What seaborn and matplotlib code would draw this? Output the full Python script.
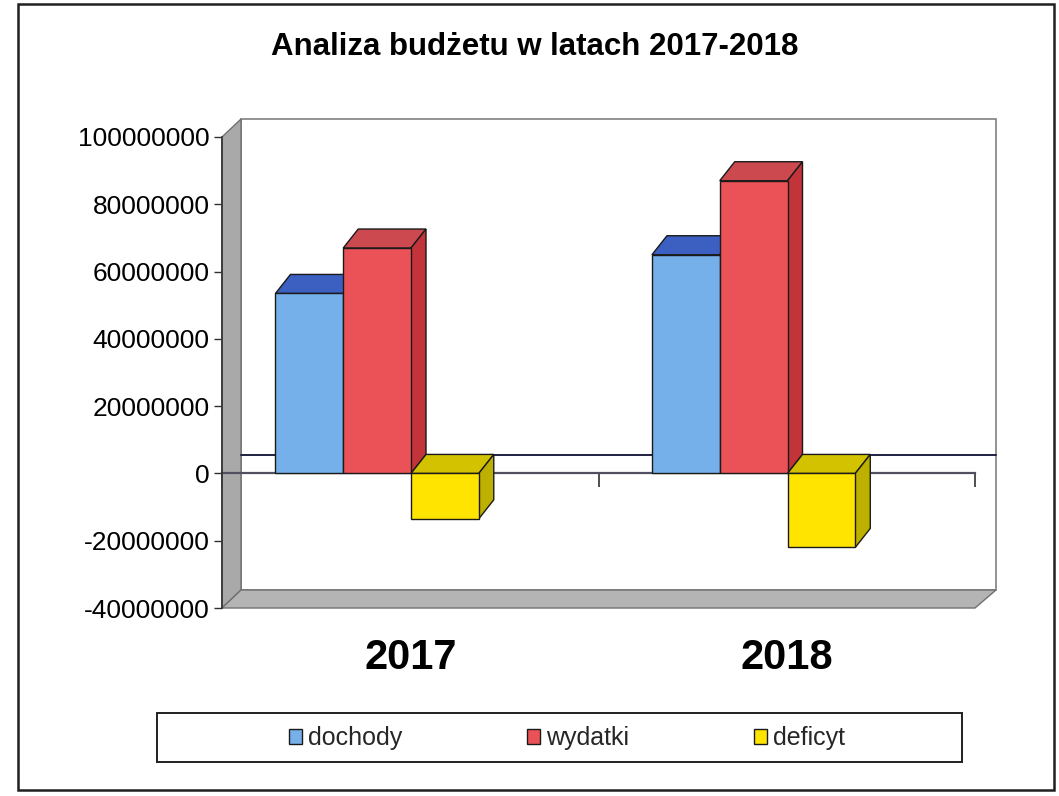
import numpy as np
import pandas as pd
import matplotlib
matplotlib.use("Agg")
import matplotlib.pyplot as plt
import seaborn as sns
from matplotlib.patches import Polygon, Rectangle, Patch
from matplotlib.ticker import FuncFormatter, FixedLocator
from matplotlib.transforms import blended_transform_factory

# ==============================
# DATA
# ==============================
lata = ["2017", "2018"]
serie = ["dochody", "wydatki", "deficyt"]
dochody = [53500000, 65000000]
wydatki = [67000000, 87000000]
deficyt = [-13500000, -22000000]

y_ticks = [-40000000, -20000000, 0, 20000000, 40000000, 60000000, 80000000, 100000000]

# front / top / side colours of the 3D bars
front_cols = {"dochody": "#76b0ea", "wydatki": "#ea5258", "deficyt": "#ffe400"}
top_cols = {"dochody": "#3c5fc2", "wydatki": "#cc4a4f", "deficyt": "#d2c200"}
side_cols = {"dochody": "#4a78c8", "wydatki": "#c2333a", "deficyt": "#bdb000"}

df = pd.DataFrame({
    "rok": lata * 3,
    "seria": np.repeat(serie, len(lata)),
    "kwota": dochody + wydatki + deficyt,
})

# ==============================
# FIGURE
# ==============================
sns.set_theme(style="white")
plt.rcParams["font.family"] = ["Liberation Sans", "DejaVu Sans"]

fig = plt.figure(figsize=(10.59, 7.96), dpi=100)
W, H = 1059, 796
ax = fig.add_axes([222 / W, 1 - 608 / H, 753 / W, 471 / H])

sns.barplot(data=df, x="rok", y="kwota", hue="seria", hue_order=serie,
            palette=front_cols, width=0.54, gap=0, saturation=1,
            edgecolor="#1a1a1a", linewidth=1.0, legend=False, ax=ax)

# seaborn resets limits, so set them afterwards
x0, x1 = -0.412, 1.588
y0, y1 = -40000000, 100000000
ax.set_xlim(x0, x1)
ax.set_ylim(y0, y1)

# depth of the fake 3D effect, pixels -> data units
px_x = (x1 - x0) / 753
px_y = (y1 - y0) / 471
DX, DY = 15 * px_x, 19 * px_y
WX, WY = 19 * px_x, 18 * px_y

# back wall, left wall, floor
ax.add_patch(Rectangle((x0 + WX, y0 + WY), (x1 - x0) + 2 * px_x, (y1 - y0), facecolor="white",
                       edgecolor="#808080", lw=1.2, zorder=0.5, clip_on=False))
ax.add_patch(Polygon([(x0, y0), (x0, y1), (x0 + WX, y1 + WY), (x0 + WX, y0 + WY)],
                     closed=True, facecolor="#a9a9a9", edgecolor="#707070", lw=1, zorder=0.6, clip_on=False))
ax.add_patch(Polygon([(x0, y0), (x1, y0), (x1 + WX + 2 * px_x, y0 + WY), (x0 + WX, y0 + WY)],
                     closed=True, facecolor="#b4b4b4", edgecolor="#707070", lw=1, zorder=0.6, clip_on=False))
# zero line on the back wall
ax.plot([x0 + WX, x1 + WX + 2 * px_x], [WY, WY], color="#202040", lw=1.4, zorder=0.7, clip_on=False)

# add top and side faces from each bar
bars = sorted(ax.patches[:6], key=lambda p: p.get_x())
bar_series = []
for p in bars:
    fc = np.array(p.get_facecolor())
    name = min(front_cols, key=lambda k: np.sum(np.abs(np.array(matplotlib.colors.to_rgba(front_cols[k])) - fc)))
    bar_series.append(name)

for i, (p, name) in enumerate(zip(bars, bar_series)):
    z = 2 + i * 0.1
    bx, bw = p.get_x(), p.get_width()
    yb, yt = sorted([p.get_y(), p.get_y() + p.get_height()])
    top = Polygon([(bx, yt), (bx + bw, yt), (bx + bw + DX, yt + DY), (bx + DX, yt + DY)], closed=True,
                  facecolor=top_cols[name], edgecolor="#1a1a1a", lw=1.0, zorder=z)
    side = Polygon([(bx + bw, yb), (bx + bw, yt), (bx + bw + DX, yt + DY), (bx + bw + DX, yb + DY)], closed=True,
                   facecolor=side_cols[name], edgecolor="#1a1a1a", lw=1.0, zorder=z)
    ax.add_patch(top)
    ax.add_patch(side)
    p.set_zorder(z + 0.05)

# ==============================
# AXES
# ==============================
for s in ["top", "right"]:
    ax.spines[s].set_visible(False)
ax.spines["left"].set_color("#303030")
ax.spines["left"].set_linewidth(1.2)
ax.spines["bottom"].set_position(("data", 0))
ax.spines["bottom"].set_color("#505060")
ax.spines["bottom"].set_linewidth(1.6)
ax.spines["bottom"].set_zorder(1.5)

ax.yaxis.set_major_locator(FixedLocator(y_ticks))
ax.yaxis.set_major_formatter(FuncFormatter(lambda v, pos: f"{int(v)}"))
ax.tick_params(axis="y", direction="out", length=6, width=1, colors="#303030", labelsize=19,
               labelcolor="black", pad=3, left=True)

ax.set_xticks([x0 + k for k in range(len(lata) + 1)])
ax.set_xticklabels([])
ax.tick_params(axis="x", direction="out", length=10, width=1.2, colors="#303030", bottom=True)
ax.set_xlabel("")
ax.set_ylabel("")

trans = blended_transform_factory(ax.transData, fig.transFigure)
for k, rok in enumerate(lata):
    ax.text(x0 + k + 0.5, 1 - 658 / H, rok, transform=trans, ha="center", va="center",
            fontsize=30, fontweight="bold", color="black")

fig.text(535 / W, 1 - 47 / H, "Analiza budżetu w latach 2017-2018", ha="center", va="center",
         fontsize=22.5, fontweight="bold", color="black")

# legend
fig.patches.append(Rectangle((157 / W, 1 - 762 / H), 805 / W, 49 / H, transform=fig.transFigure,
                             facecolor="white", edgecolor="#202020", lw=1.4))
handles = [Patch(facecolor=front_cols[s], edgecolor="#1a1a1a", label=s) for s in serie]
leg = fig.legend(handles=handles, loc="center", ncol=3, bbox_to_anchor=(567 / W, 1 - 738 / H),
                 frameon=False, fontsize=18, handlelength=0.5, handleheight=0.55,
                 handletextpad=0.25, columnspacing=5.0)

# outer frame
fig.patches.append(Rectangle((18 / W, 6 / H), 1036 / W, 786 / H, transform=fig.transFigure,
                             fill=False, edgecolor="#202020", lw=1.8))

plt.savefig("out.png", dpi=100)
